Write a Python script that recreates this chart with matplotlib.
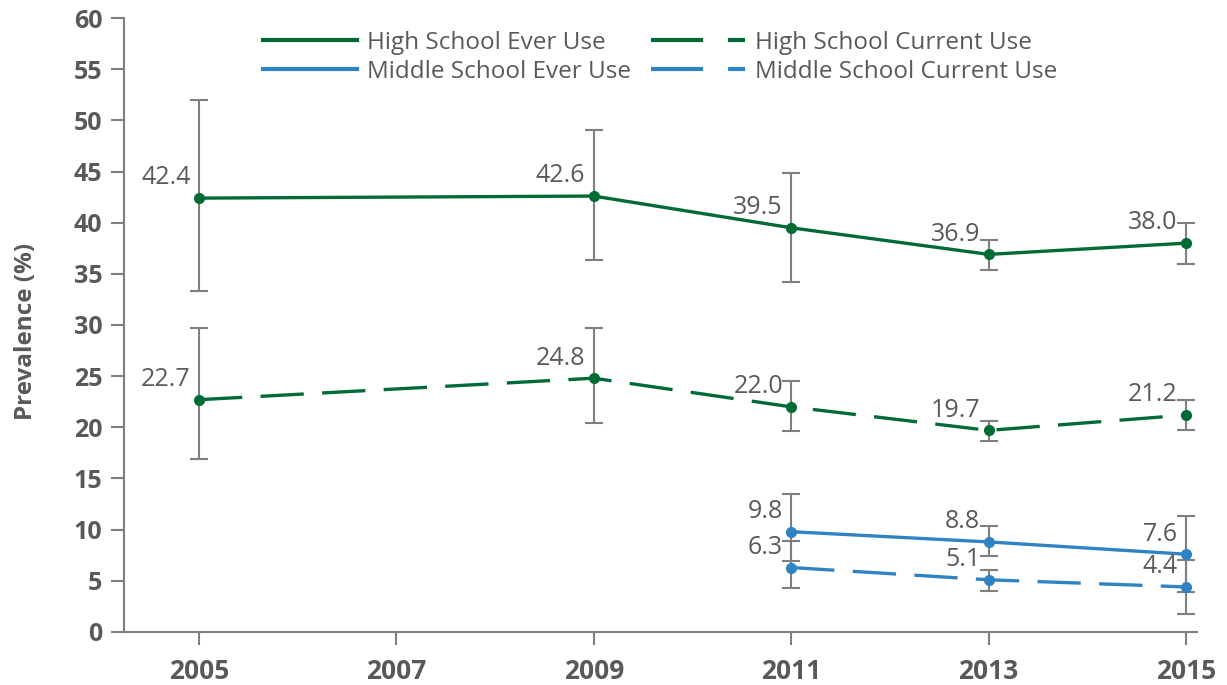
import matplotlib
matplotlib.use("Agg")
import matplotlib.pyplot as plt
from matplotlib.lines import Line2D

plt.rcParams['font.family'] = ['Open Sans', 'DejaVu Sans']

years = [2005, 2009, 2011, 2013, 2015]
ms_years = [2011, 2013, 2015]

hs_ever = [42.4, 42.6, 39.5, 36.9, 38.0]
hs_ever_lo = [33.3, 36.4, 34.2, 35.4, 36.0]
hs_ever_hi = [52.0, 49.1, 44.9, 38.3, 40.0]

hs_cur = [22.7, 24.8, 22.0, 19.7, 21.2]
hs_cur_lo = [16.9, 20.4, 19.6, 18.7, 19.7]
hs_cur_hi = [29.7, 29.7, 24.5, 20.6, 22.7]

ms_ever = [9.8, 8.8, 7.6]
ms_ever_lo = [6.9, 7.4, 3.9]
ms_ever_hi = [13.5, 10.4, 11.3]

ms_cur = [6.3, 5.1, 4.4]
ms_cur_lo = [4.3, 4.0, 1.8]
ms_cur_hi = [8.9, 6.1, 7.0]

green = '#006b35'
blue = '#3083c3'
gray = '#595959'
ebar = '#7f7f7f'
dash = (13, 5.5)

series = [
    ("High School Ever Use", years, hs_ever, hs_ever_lo, hs_ever_hi, green, '-'),
    ("High School Current Use", years, hs_cur, hs_cur_lo, hs_cur_hi, green, '--'),
    ("Middle School Ever Use", ms_years, ms_ever, ms_ever_lo, ms_ever_hi, blue, '-'),
    ("Middle School Current Use", ms_years, ms_cur, ms_cur_lo, ms_cur_hi, blue, '--'),
]

fig = plt.figure(figsize=(12.27, 6.85), dpi=100)
ax = fig.add_axes([0.101, 0.0774, 0.8745, 0.8963])

handles = {}
for name, x, y, lo, hi, col, ls in series:
    yerr = [[v - l for v, l in zip(y, lo)], [h - v for v, h in zip(y, hi)]]
    ax.errorbar(x, y, yerr=yerr, fmt='none', ecolor=ebar, elinewidth=1.5,
                capsize=6.5, capthick=1.5, zorder=2)
    line, = ax.plot(x, y, color=col, lw=2.4, marker='o', markersize=7, zorder=3)
    h = Line2D([], [], color=col, lw=3)
    if ls == '--':
        line.set_dashes(dash)
        h.set_dashes((12.5, 6))
    handles[name] = h
    for xi, yi in zip(x, y):
        ax.annotate(f"{yi:.1f}", (xi, yi), xytext=(-6, 14.5), textcoords='offset points',
                    ha='right', va='center', fontsize=18, color=gray)

ax.set_xlim(2004.24, 2015.11)
ax.set_ylim(0, 60)
ax.set_xticks([2005, 2007, 2009, 2011, 2013, 2015])
ax.set_yticks(range(0, 61, 5))
ax.tick_params(axis='both', colors=ebar, labelcolor=gray, width=1.5, length=9.5, labelsize=18)
ax.tick_params(axis='y', pad=6)
ax.tick_params(axis='x', pad=9, labelsize=19)
for lab in ax.get_xticklabels() + ax.get_yticklabels():
    lab.set_fontweight('bold')
for s in ['top', 'right']:
    ax.spines[s].set_visible(False)
for s in ['left', 'bottom']:
    ax.spines[s].set_color(ebar)
    ax.spines[s].set_linewidth(1.5)

ax.set_ylabel("Prevalence (%)", fontsize=17.5, fontweight='bold', color=gray)
ax.yaxis.set_label_coords(-0.08, 0.49)

order = ["High School Ever Use", "Middle School Ever Use",
         "High School Current Use", "Middle School Current Use"]
fig.legend([handles[n] for n in order], order, loc='upper left',
           bbox_to_anchor=(263 / 1227, 1 - 31 / 685), ncol=2, frameon=False,
           borderpad=0, borderaxespad=0, fontsize=17.5, handlelength=3.85,
           columnspacing=0.85, handletextpad=0.42, labelspacing=0.2, labelcolor=gray)

fig.savefig("out.png", dpi=100)
